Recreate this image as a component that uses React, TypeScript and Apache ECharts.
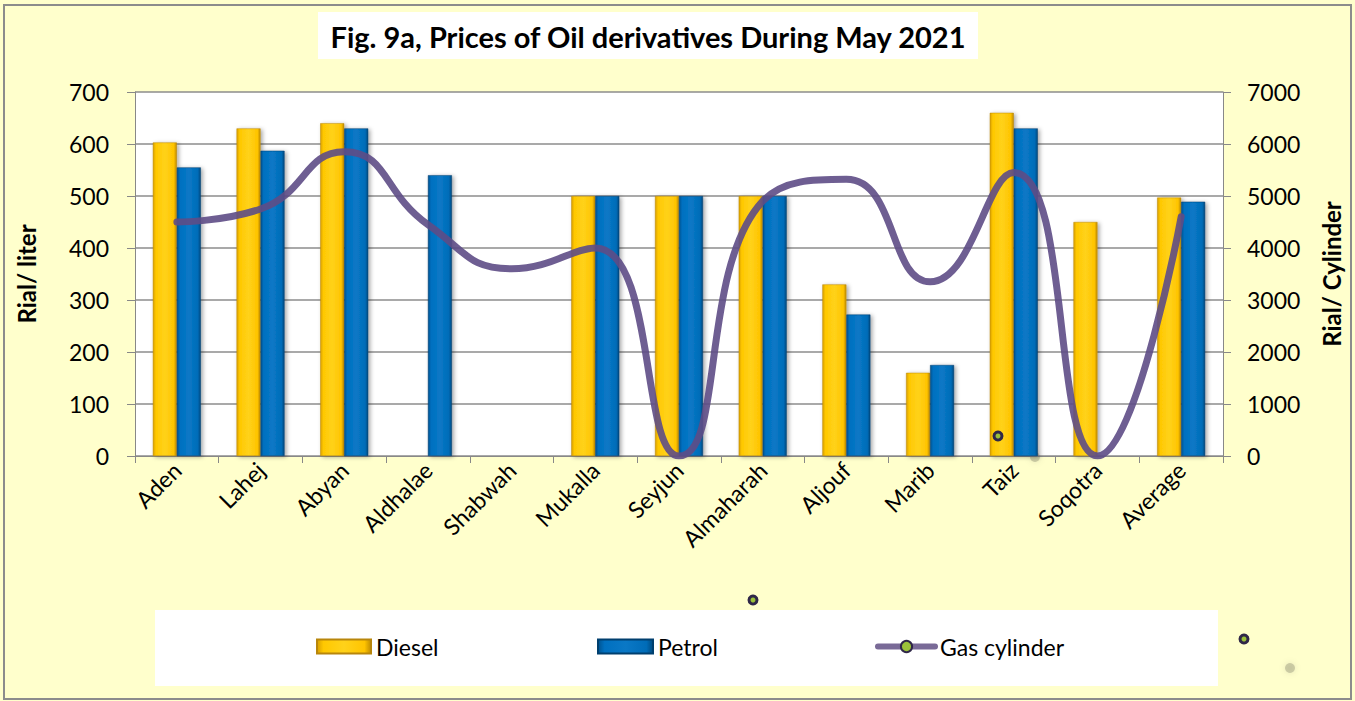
import React, { useEffect, useRef } from "react";
import * as echarts from "echarts";

const categories = ["Aden", "Lahej", "Abyan", "Aldhalae", "Shabwah", "Mukalla", "Seyjun", "Almaharah", "Aljouf", "Marib", "Taiz", "Soqotra", "Average"];
const diesel: (number | null)[] = [603, 630, 640, null, null, 500, 500, 500, 330, 160, 660, 450, 497];
const petrol: (number | null)[] = [555, 587, 630, 540, null, 500, 500, 500, 272, 175, 630, null, 489];
const gasCylinder: number[] = [4500, 4750, 5850, 4450, 3600, 4000, 0, 4900, 5320, 3350, 5450, 0, 4600];
const leftTicks = { min: 0, max: 700, interval: 100 };
const rightTicks = { min: 0, max: 7000, interval: 1000 };

const FONT = "Lato, 'Open Sans', sans-serif";

export default function App() {
  const ref = useRef<HTMLDivElement>(null);
  useEffect(() => {
    if (!ref.current) return;
    const chart = echarts.init(ref.current, undefined, { renderer: "svg" });
    const yellow = new echarts.graphic.LinearGradient(0, 0, 1, 0, [
      { offset: 0, color: "#D9A000" },
      { offset: 0.12, color: "#FFC800" },
      { offset: 0.5, color: "#FFD21A" },
      { offset: 0.88, color: "#FFC400" },
      { offset: 1, color: "#C08C00" },
    ]);
    const blue = new echarts.graphic.LinearGradient(0, 0, 1, 0, [
      { offset: 0, color: "#00528F" },
      { offset: 0.12, color: "#0070C0" },
      { offset: 0.5, color: "#0A78C6" },
      { offset: 0.88, color: "#006CB8" },
      { offset: 1, color: "#004A80" },
    ]);
    const strayDot = (x: number, y: number) => ({
      type: "circle",
      shape: { cx: x, cy: y, r: 4 },
      style: { fill: "#9BC23A", stroke: "#2F2748", lineWidth: 3 },
      z: 10,
    });
    const legendText = { fontSize: 23, color: "#000", fontFamily: FONT };
    chart.setOption({
      animation: false,
      backgroundColor: "#FFFFCC",
      textStyle: { fontFamily: FONT },
      grid: { left: 135, right: 132, top: 92, bottom: 245, backgroundColor: "#FFFFFF", show: true, borderWidth: 0, containLabel: false, outerBoundsMode: "none" },
      legend: [
        { data: ["Diesel"], left: 316, top: 635, padding: 0, itemWidth: 54, itemHeight: 14, textStyle: legendText, icon: "rect" },
        { data: ["Petrol"], left: 597, top: 635, padding: 0, itemWidth: 55, itemHeight: 14, textStyle: legendText, icon: "rect" },
        {
          data: ["Gas cylinder"], left: 875, top: 635, padding: 0, itemWidth: 57, itemHeight: 14, textStyle: legendText,
          lineStyle: { width: 6, color: "#6A5A8C", cap: "round" },
          itemStyle: { color: "#9BC23A", borderColor: "#2F2748", borderWidth: 2 },
        },
      ],
      xAxis: {
        type: "category",
        data: categories,
        boundaryGap: true,
        axisLine: { show: true, lineStyle: { color: "#888888", width: 1 } },
        axisTick: { show: true, interval: 0, length: 7, lineStyle: { color: "#888888" } },
        axisLabel: { interval: 0, rotate: 45, fontSize: 23, color: "#000", margin: 10, fontFamily: FONT },
      },
      yAxis: [
        {
          type: "value",
          min: leftTicks.min,
          max: leftTicks.max,
          interval: leftTicks.interval,
          name: "Rial/ liter",
          nameLocation: "middle",
          nameRotate: 90,
          nameGap: 97,
          nameTextStyle: { fontSize: 24, fontWeight: "bold", color: "#000", fontFamily: FONT },
          axisLine: { show: true, lineStyle: { color: "#888888" } },
          axisTick: { show: true, length: 8, lineStyle: { color: "#888888" } },
          axisLabel: { fontSize: 23, color: "#000", margin: 26, fontFamily: FONT },
          splitLine: { show: true, lineStyle: { color: "#8C8C8C", width: 1.5 } },
        },
        {
          type: "value",
          min: rightTicks.min,
          max: rightTicks.max,
          interval: rightTicks.interval,
          position: "right",
          name: "Rial/ Cylinder",
          nameLocation: "middle",
          nameRotate: 90,
          nameGap: 96,
          nameTextStyle: { fontSize: 24, fontWeight: "bold", color: "#000", fontFamily: FONT },
          axisLine: { show: true, lineStyle: { color: "#888888" } },
          axisTick: { show: true, length: 8, lineStyle: { color: "#888888" } },
          axisLabel: { fontSize: 23, color: "#000", margin: 24, fontFamily: FONT, formatter: (v: number) => String(v) },
          splitLine: { show: false },
        },
      ],
      series: [
        {
          name: "Diesel",
          type: "bar",
          data: diesel,
          barWidth: 24,
          barGap: "0%",
          itemStyle: { color: yellow, borderColor: "#B8860B", borderWidth: 0.5, shadowBlur: 4, shadowColor: "rgba(0,0,0,0.35)", shadowOffsetX: 2, shadowOffsetY: 1 },
        },
        {
          name: "Petrol",
          type: "bar",
          data: petrol,
          barWidth: 24,
          barGap: "0%",
          itemStyle: { color: blue, borderColor: "#003F6E", borderWidth: 0.5, shadowBlur: 4, shadowColor: "rgba(0,0,0,0.35)", shadowOffsetX: 2, shadowOffsetY: 1 },
        },
        {
          name: "Gas cylinder",
          type: "line",
          yAxisIndex: 1,
          data: gasCylinder,
          smooth: 0.5,
          symbol: "circle",
          symbolSize: 9,
          showSymbol: false,
          color: "#6A5A8C",
          lineStyle: { color: "#5E4C86", width: 7, opacity: 0.9, cap: "round" },
          itemStyle: { color: "#9BC23A", borderColor: "#2F2748", borderWidth: 2 },
          z: 5,
        },
      ],
      graphic: [
        { type: "rect", shape: { x: 4, y: 5, width: 1347, height: 694 }, style: { fill: "none", stroke: "#8C8C8C", lineWidth: 2 }, silent: true },
        { type: "rect", shape: { x: 318, y: 12, width: 660, height: 47 }, style: { fill: "#FFFFFF" }, z: 1 },
        {
          type: "text",
          x: 648,
          y: 36,
          style: { text: "Fig. 9a, Prices of Oil derivatives During May 2021", fontSize: 29, fontWeight: "bold", fill: "#000", fontFamily: FONT, align: "center", verticalAlign: "middle" },
          z: 2,
        },
        { type: "rect", shape: { x: 155, y: 610, width: 1063, height: 76 }, style: { fill: "#FFFFFF" }, z: -1 },
        strayDot(998, 436),
        strayDot(753, 600),
        strayDot(1244, 639),
        { type: "circle", shape: { cx: 1290, cy: 668, r: 5 }, style: { fill: "rgba(120,120,100,0.35)", shadowBlur: 6, shadowColor: "rgba(0,0,0,0.3)" } },
        { type: "circle", shape: { cx: 1035, cy: 457, r: 5 }, style: { fill: "rgba(120,120,100,0.35)", shadowBlur: 6, shadowColor: "rgba(0,0,0,0.3)" } },
      ],
    });
    return () => chart.dispose();
  }, []);
  return <div ref={ref} style={{ position: "absolute", left: 0, top: 0, width: 1355, height: 701 }} />;
}
